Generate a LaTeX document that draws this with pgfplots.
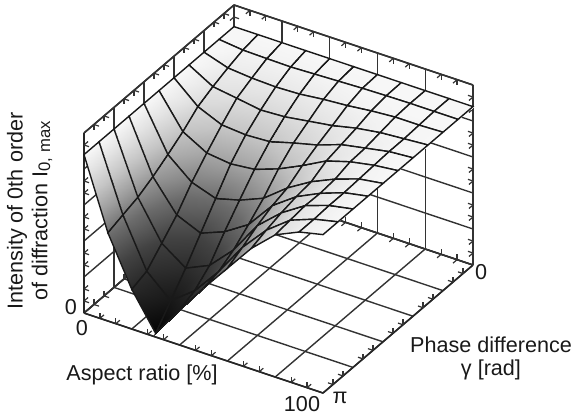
\documentclass[border=0pt]{standalone}
\usepackage{fontspec}
\setmainfont{Liberation Sans}
\usepackage{pgfplots}
\pgfplotsset{compat=1.18}
\begin{document}
\begin{tikzpicture}
\begin{axis}[
  at={(0,0)}, anchor=origin,
  x={(1.7925pt,-0.6pt)}, y={(112.5pt,96pt)}, z={(0pt,135pt)}, y dir=reverse,
  xmin=0, xmax=100, ymin=0, ymax=1, zmin=0, zmax=1,
  xtick={0,20,40,60,80,100}, ytick={0,0.2,0.4,0.6,0.8,1}, ztick={0,0.2,0.4,0.6,0.8,1},
  xticklabels={}, yticklabels={}, zticklabels={},
  minor tick num=2,
  tick align=inside,
  major tick length=0pt, minor tick length=4pt,
  grid=major,
  major grid style={black!80, line width=1.05pt},
  axis line style={black!85, line width=1.2pt},
  tick style={black!80, line width=0.9pt},
  clip=false,
  colormap={gg}{gray(0cm)=(0); gray(2cm)=(.14); gray(3.5cm)=(.26); gray(4.8cm)=(.42); gray(6cm)=(.62); gray(7cm)=(.77); gray(8cm)=(.89); gray(8.8cm)=(.97)},
  point meta min=0, point meta max=0.88,
]
\addplot3[surf, shader=faceted interp, faceted color=black!90, line width=1.05pt, mesh/rows=11, mesh/cols=11, mesh/ordering=y varies] coordinates {
(0,0,.88) (0,.1,.88) (0,.2,.88) (0,.3,.88) (0,.4,.88) (0,.5,.88) (0,.6,.88) (0,.7,.88) (0,.8,.88) (0,.9,.88) (0,1,.88)

(10,0,.88) (10,.1,.865) (10,.2,.837) (10,.3,.804) (10,.4,.764) (10,.5,.696) (10,.6,.640) (10,.7,.588) (10,.8,.545) (10,.9,.518) (10,1,.49)

(20,0,.88) (20,.1,.862) (20,.2,.825) (20,.3,.784) (20,.4,.707) (20,.5,.622) (20,.6,.530) (20,.7,.420) (20,.8,.334) (20,.9,.250) (20,1,.22)

(30,0,.88) (30,.1,.860) (30,.2,.820) (30,.3,.763) (30,.4,.696) (30,.5,.606) (30,.6,.485) (30,.7,.363) (30,.8,.240) (30,.9,.130) (30,1,.02)

(40,0,.88) (40,.1,.865) (40,.2,.825) (40,.3,.770) (40,.4,.703) (40,.5,.620) (40,.6,.520) (40,.7,.416) (40,.8,.300) (40,.9,.230) (40,1,.195)

(50,0,.88) (50,.1,.870) (50,.2,.840) (50,.3,.790) (50,.4,.740) (50,.5,.667) (50,.6,.575) (50,.7,.500) (50,.8,.430) (50,.9,.380) (50,1,.36)

(60,0,.88) (60,.1,.875) (60,.2,.850) (60,.3,.810) (60,.4,.773) (60,.5,.730) (60,.6,.677) (60,.7,.650) (60,.8,.610) (60,.9,.560) (60,1,.515)

(70,0,.88) (70,.1,.878) (70,.2,.865) (70,.3,.840) (70,.4,.820) (70,.5,.800) (70,.6,.756) (70,.7,.744) (70,.8,.725) (70,.9,.700) (70,1,.67)

(80,0,.88) (80,.1,.880) (80,.2,.875) (80,.3,.860) (80,.4,.845) (80,.5,.840) (80,.6,.815) (80,.7,.807) (80,.8,.810) (80,.9,.800) (80,1,.79)

(90,0,.88) (90,.1,.880) (90,.2,.875) (90,.3,.870) (90,.4,.870) (90,.5,.865) (90,.6,.860) (90,.7,.855) (90,.8,.855) (90,.9,.850) (90,1,.85)

(100,0,.88) (100,.1,.88) (100,.2,.88) (100,.3,.88) (100,.4,.88) (100,.5,.88) (100,.6,.88) (100,.7,.88) (100,.8,.88) (100,.9,.88) (100,1,.88)
};
\end{axis}
\begin{scope}[x=.75pt,y=-.75pt,shift={(-234,-185)},every node/.style={font=\fontsize{16.2pt}{18pt}\selectfont, inner sep=0pt, text=black!90}]
\path[use as bounding box] (0,0) rectangle (573,418);
\node at (71,307) {0};
\node at (82,328) {0};
\node at (302,404) {100};
\node at (340,398) {π};
\node at (481,272) {0};
\node at (142,375) {Aspect ratio [\%]};
\node at (491,345) {Phase difference};
\node at (491,370) {γ [rad]};
\node[rotate=90] at (17,211) {Intensity of 0th order};
\node[rotate=90] at (42,211) {of diffraction I\raisebox{-2pt}{\fontsize{12.5pt}{13pt}\selectfont 0, max}};
\end{scope}
\end{tikzpicture}
\end{document}
